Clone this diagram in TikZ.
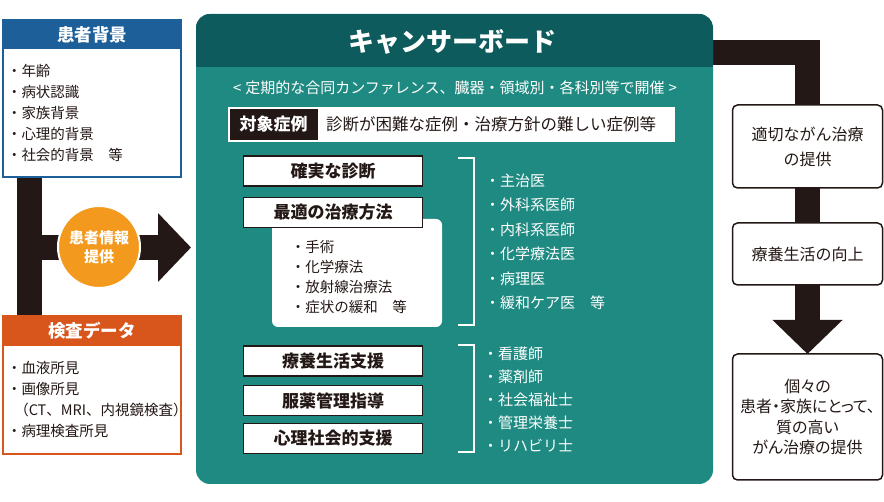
\documentclass[tikz,border=0pt]{standalone}
\usepackage{fontspec}
\setmainfont{Noto Sans CJK JP}
\usetikzlibrary{arrows.meta,calc}
\definecolor{cblue}{HTML}{1D5F99}
\definecolor{corange}{HTML}{D8561C}
\definecolor{ccirc}{HTML}{F39A1E}
\definecolor{cdark}{HTML}{0D5B5C}
\definecolor{cteal}{HTML}{1E8A81}
\definecolor{cblack}{HTML}{231815}
\pgfdeclarelayer{background}
\pgfsetlayers{background,main}
\begin{document}
\begin{tikzpicture}[x=1pt,y=-1pt,
  every node/.style={inner sep=0pt, outer sep=0pt},
  sidebox/.style={draw=#1, line width=2, fill=white, minimum width=178, anchor=north},
  hdr/.style={fill=#1, text=white, font=\fontsize{17.5}{20}\selectfont\bfseries, minimum width=180, minimum height=30, anchor=north},
  lst/.style={anchor=north west, align=left, text=#1},
  lbox/.style={draw=cblack, line width=1.6, fill=white, minimum width=179, minimum height=30, font=\fontsize{17}{20}\selectfont\bfseries, text=cblack},
  rbox/.style={draw=cblack, line width=1.5, fill=white, rounded corners=5, minimum width=150, align=center, text=cblack},
  bar/.style={draw=cblack, line width=25},
  brk/.style={draw=white, line width=1.5}]
\useasboundingbox (0,0) rectangle (884,502);

% ---------- left side ----------
\node[sidebox=cblue, minimum height=157] (bgbox) at (92,20.5) {};
\node[hdr=cblue] (bgh) at ($(bgbox.north)+(0,-1)$) {患者背景};
\node[lst=cblack, font=\fontsize{14.5}{21}\selectfont] (bgl) at (7,64.5)
  {・年齢\\・病状認識\\・家族背景\\・心理的背景\\・社会的背景　等};

\node[sidebox=corange, minimum height=138] (kdbox) at (92,316.5) {};
\node[hdr=corange, minimum height=31] (kdh) at ($(kdbox.north)+(0,-1)$) {検査データ};
\node[lst=cblack, font=\fontsize{14.5}{21}\selectfont] (kdl) at (7,361.5)
  {・血液所見\\・画像所見\\\hspace*{7.25pt}（CT、MRI、内視鏡検査）\\・病理検査所見};

\coordinate (tj) at (29.5,247.5);
\coordinate (atip) at (191,247.5);
\begin{pgfonlayer}{background}
  \draw[bar] (bgbox.south -| tj) -- (kdbox.north -| tj);
  \draw[bar, -{Triangle[length=33pt,width=67pt]}] (tj) -- (atip);
\end{pgfonlayer}
\node[circle, fill=ccirc, draw=white, line width=2, minimum size=82, align=center,
  text=white, font=\fontsize{15}{19}\selectfont\bfseries] (info) at (99,247) {患者情報\\提供};

% ---------- cancer board ----------
\node[fill=cteal, rounded corners=14, minimum width=517, minimum height=470] (board) at (454.5,249) {};
\begin{scope}
  \clip[rounded corners=14] (board.north west) rectangle (board.south east);
  \fill[cdark] (board.north west) rectangle ($(board.north east)+(0,53)$);
\end{scope}
\node[text=white, font=\fontsize{26}{28}\selectfont\bfseries] (title) at (452,42) {キャンサーボード};
\node[text=white, font=\fontsize{15}{18}\selectfont] (sub) at (455,88)
  {<\hspace{4pt}定期的な合同カンファレンス、臓器・領域別・各科別等で開催\hspace{4pt}>};

\node[fill=white, minimum width=447, minimum height=35] (tgt) at (451.5,124.5) {};
\node[fill=cblack, minimum width=88, minimum height=31, text=white,
  font=\fontsize{17}{20}\selectfont\bfseries] (tgtl) at (273.5,124.5) {対象症例};
\node[anchor=west, text=cblack, font=\fontsize{16.5}{20}\selectfont] (tgtt) at (326,124.5)
  {診断が困難な症例・治療方針の難しい症例等};

\node[lbox] (b1) at (333,171) {確実な診断};
\node[fill=white, rounded corners=6, minimum width=170, minimum height=108] (sub1) at (357,273) {};
\node[lbox] (b2) at (333,212.5) {最適の治療方法};
\node[lst=cblack, font=\fontsize{14.5}{20}\selectfont] (sub1l) at (290.75,240.5)
  {・手術\\・化学療法\\・放射線治療法\\・症状の緩和　等};

\coordinate (k1t) at (458,158);
\coordinate (k1b) at (458,325);
\draw[brk] (k1t) -| (474,241.5) |- (k1b);
\node[lst=white, font=\fontsize{15}{24.5}\selectfont] (d1) at (485,173.4)
  {・主治医\\・外科系医師\\・内科系医師\\・化学療法医\\・病理医\\・緩和ケア医　等};

\node[lbox] (b3) at (333,361) {療養生活支援};
\node[lbox] (b4) at (333,400.5) {服薬管理指導};
\node[lbox] (b5) at (333,438.5) {心理社会的支援};

\coordinate (k2t) at (458,345);
\coordinate (k2b) at (458,452);
\draw[brk] (k2t) -| (474,398.5) |- (k2b);
\node[lst=white, font=\fontsize{15}{23}\selectfont] (d2) at (483,346.4)
  {・看護師\\・薬剤師\\・社会福祉士\\・管理栄養士\\・リハビリ士};

% ---------- right side ----------
\node[rbox, minimum height=83, font=\fontsize{16}{25}\selectfont] (r1) at (807.5,146.5) {適切ながん治療\\の提供};
\node[rbox, minimum height=62, font=\fontsize{16}{20}\selectfont] (r2) at (807.5,254) {療養生活の向上};
\node[rbox, minimum height=126, font=\fontsize{16}{20.5}\selectfont\addfontfeatures{RawFeature=+palt}] (r3) at (807.5,417)
  {個々の\\患者・家族にとって、\\質の高い\\がん治療の提供};

\coordinate (bout) at (700,53);
\begin{pgfonlayer}{background}
  \draw[bar] (bout) -| (r1.north);
  \draw[bar] (r1.south) -- (r2.north);
  \draw[bar, -{Triangle[length=34pt,width=68pt]}] (r2.south) -- (r3.north);
\end{pgfonlayer}
\end{tikzpicture}
\end{document}
